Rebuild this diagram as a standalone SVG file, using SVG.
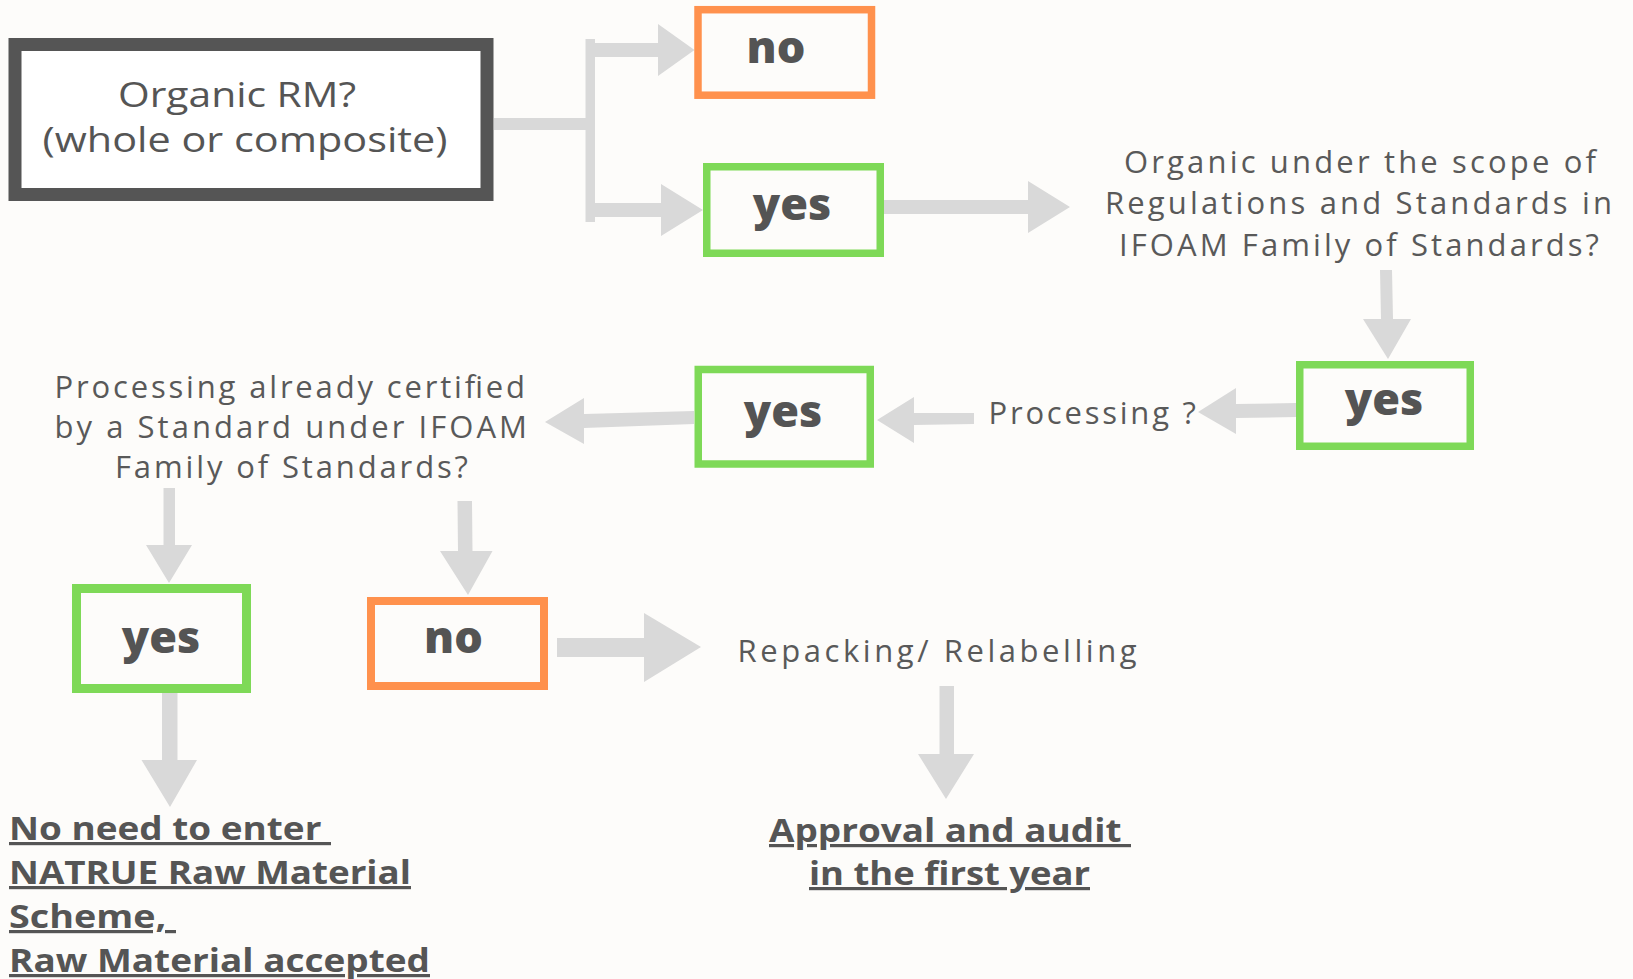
<svg xmlns="http://www.w3.org/2000/svg" width="1633" height="979" viewBox="0 0 1633 979">
<style>
.bg{fill:#FDFCFA}
.arr{fill:#D9D9D9}
.box{fill:none}
.grn{stroke:#7ED957}
.org{stroke:#FF914D}
.bd{font-family:"Open Sans","Liberation Sans",sans-serif;font-weight:800;font-size:45px;fill:#545454;text-anchor:middle}
.lt{font-family:"Open Sans","Liberation Sans",sans-serif;font-weight:400;font-size:31px;fill:#595959}
.main{font-family:"Open Sans","Liberation Sans",sans-serif;font-weight:400;font-size:35px;fill:#555555}
.ul{font-family:"Open Sans","Liberation Sans",sans-serif;font-weight:700;font-size:32px;fill:#555555;text-decoration:underline;text-decoration-thickness:3px;white-space:pre}
</style>
<rect class="bg" x="0" y="0" width="1633" height="979"/>
<g id="connectors">
<rect class="arr" x="494" y="118" width="92" height="12"/>
<rect class="arr" x="585.5" y="39" width="9.5" height="183"/>
<polygon class="arr" points="595,43 658,43 658,24 694.5,50 658,76 658,57 595,57"/>
<polygon class="arr" points="595,203 661,203 661,184 703,210 661,236 661,217 595,217"/>
<polygon class="arr" points="884,200 1028,200 1028,181 1070,207 1028,233 1028,214 884,214"/>
<polygon class="arr" points="1380,270 1392,270 1393,319 1411,319 1388,359 1363,319 1381,319"/>
<polygon class="arr" points="1296,403 1236,404 1236,388 1198,412 1236,434 1236,418 1296,417"/>
<polygon class="arr" points="974,413 914,413 914,397 877,420 914,443 914,425 974,424"/>
<polygon class="arr" points="694,411 584,414 584,398 545,422 584,444 584,428 694,424"/>
<polygon class="arr" points="163.5,488 175,488 175,545 192,545 169,583 146,545 163.5,545"/>
<polygon class="arr" points="457.5,501 472,501 472.5,551 492.5,551 468,595 440,551 458,551"/>
<polygon class="arr" points="557,638 644,638 644,613 701,647 644,682 644,657 557,657"/>
<polygon class="arr" points="162,690 177.5,690 177.5,760 197,760 170,807 141.5,760 162,760"/>
<polygon class="arr" points="939.5,686 954,686 954,754 974,754 946,799 918,754 939.5,754"/>
</g>
<g id="n-organic-rm">
<rect x="15" y="44.5" width="472" height="150" fill="#FFFFFF" stroke="#555555" stroke-width="13"/>
<text class="main" x="237" y="107" text-anchor="middle" textLength="238" lengthAdjust="spacingAndGlyphs">Organic RM?</text>
<text class="main" x="245" y="152" text-anchor="middle" textLength="405" lengthAdjust="spacingAndGlyphs">(whole or composite)</text>
</g>
<g id="n-no-1">
<rect class="box org" x="698" y="9.7" width="173.5" height="85.5" stroke-width="7.5"/>
<text class="bd" x="776" y="63">no</text>
</g>
<g id="n-yes-1">
<rect class="box grn" x="706.75" y="166.75" width="173.5" height="86.5" stroke-width="7.5"/>
<text class="bd" x="792" y="220">yes</text>
</g>
<g id="n-scope">
<text class="lt" x="1124" y="173" textLength="472" lengthAdjust="spacing">Organic under the scope of</text>
<text class="lt" x="1105" y="214" textLength="507" lengthAdjust="spacing">Regulations and Standards in</text>
<text class="lt" x="1119" y="256" textLength="480" lengthAdjust="spacing">IFOAM Family of Standards?</text>
</g>
<g id="n-yes-2">
<rect class="box grn" x="1299.75" y="364.75" width="170.5" height="81.5" stroke-width="7.5"/>
<text class="bd" x="1384" y="415">yes</text>
</g>
<g id="n-processing">
<text class="lt" x="988.5" y="424" textLength="207.5" lengthAdjust="spacing">Processing ?</text>
</g>
<g id="n-yes-3">
<rect class="box grn" x="698.25" y="369.5" width="172" height="94.5" stroke-width="7.5"/>
<text class="bd" x="783" y="427">yes</text>
</g>
<g id="n-certified">
<text class="lt" x="54.5" y="398" textLength="470.5" lengthAdjust="spacing">Processing already certified</text>
<text class="lt" x="54.5" y="438" textLength="472.5" lengthAdjust="spacing">by a Standard under IFOAM</text>
<text class="lt" x="115" y="478" textLength="353" lengthAdjust="spacing">Family of Standards?</text>
</g>
<g id="n-yes-4">
<rect class="box grn" x="76.5" y="588.5" width="170" height="100" stroke-width="9"/>
<text class="bd" x="161" y="653">yes</text>
</g>
<g id="n-no-2">
<rect class="box org" x="371" y="601" width="173" height="85" stroke-width="8"/>
<text class="bd" x="453.5" y="653">no</text>
</g>
<g id="n-repacking">
<text class="lt" x="737.6" y="662" textLength="399" lengthAdjust="spacing">Repacking/ Relabelling</text>
</g>
<g id="n-accepted">
<text class="ul" x="9" y="840" xml:space="preserve" textLength="322" lengthAdjust="spacingAndGlyphs">No need to enter </text>
<text class="ul" x="9" y="884" textLength="402" lengthAdjust="spacingAndGlyphs">NATRUE Raw Material</text>
<text class="ul" x="9" y="928" xml:space="preserve" textLength="167" lengthAdjust="spacingAndGlyphs">Scheme, </text>
<text class="ul" x="9" y="972" textLength="421" lengthAdjust="spacingAndGlyphs">Raw Material accepted</text>
</g>
<g id="n-approval">
<text class="ul" x="769" y="842" xml:space="preserve" textLength="362" lengthAdjust="spacingAndGlyphs">Approval and audit </text>
<text class="ul" x="809" y="885" textLength="281" lengthAdjust="spacingAndGlyphs">in the first year</text>
</g>
</svg>
